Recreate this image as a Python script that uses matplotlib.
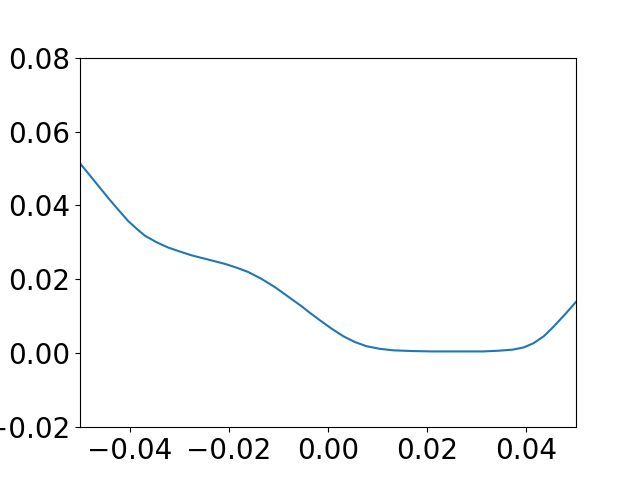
import matplotlib
matplotlib.use("Agg")
import matplotlib.pyplot as plt

# points
x = [-0.0500, -0.0472, -0.0443, -0.0420, -0.0403, -0.0385, -0.0369, -0.0345,
     -0.0322, -0.0298, -0.0275, -0.0240, -0.0208, -0.0185, -0.0161, -0.0135,
     -0.0107, -0.0080, -0.0054, -0.0035, -0.0016, 0.0008, 0.0031, 0.0055,
     0.0078, 0.0105, 0.0132, 0.0170, 0.0212, 0.0260, 0.0313, 0.0345,
     0.0373, 0.0395, 0.0414, 0.0435, 0.0454, 0.0477, 0.0500]
y = [0.0514, 0.0468, 0.0420, 0.0384, 0.0358, 0.0336, 0.0318, 0.0300,
     0.0286, 0.0275, 0.0265, 0.0253, 0.0242, 0.0232, 0.0220, 0.0202,
     0.0179, 0.0153, 0.0128, 0.0108, 0.0089, 0.0066, 0.0046, 0.0030,
     0.0019, 0.0012, 0.0008, 0.0006, 0.0005, 0.0005, 0.0005, 0.0007,
     0.0010, 0.0016, 0.0027, 0.0046, 0.0071, 0.0104, 0.0139]

fig, ax = plt.subplots(figsize=(6.4, 4.8), dpi=100)
ax.plot(x, y, color="#1f77b4")
ax.set_xlim(-0.05, 0.05)
ax.set_ylim(-0.02, 0.08)
ax.set_xticks([-0.04, -0.02, 0.00, 0.02, 0.04])
ax.set_yticks([-0.02, 0.00, 0.02, 0.04, 0.06, 0.08])
ax.tick_params(labelsize=20)

fig.savefig("out.png")
